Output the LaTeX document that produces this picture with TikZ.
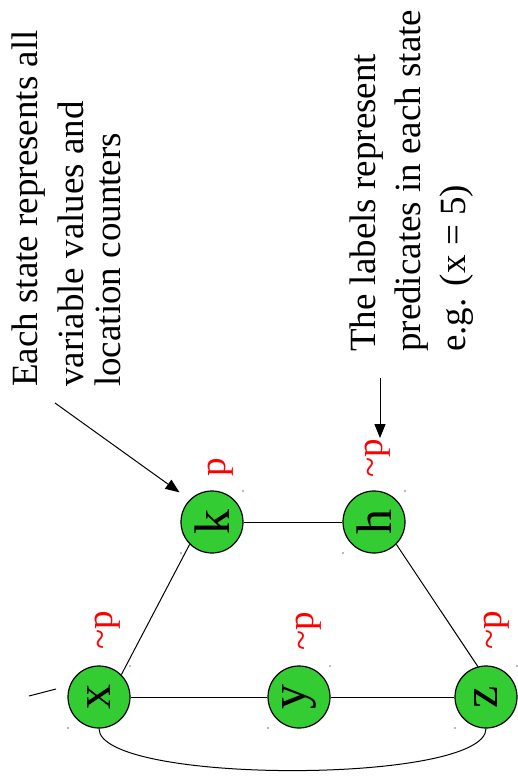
\documentclass[tikz,border=0pt]{standalone}
\usepackage{fontspec}
\setmainfont{Liberation Serif}
\usetikzlibrary{arrows.meta}
\definecolor{stategreen}{RGB}{51,204,51}
\begin{document}
\begin{tikzpicture}[x=1pt,y=-1pt,
  state/.style={circle,draw=black,line width=1.2pt,fill=stategreen,
    minimum size=62pt,inner sep=0pt,font=\fontsize{50}{50}\selectfont},
  proplabel/.style={rotate=90,anchor=base west,inner sep=0pt,text=red,
    font=\fontsize{37}{37}\selectfont},
  note/.style={rotate=90,anchor=base west,inner sep=0pt},
  edge/.style={draw=black,line width=1pt},
  pointer/.style={draw=black,line width=1pt,-{Triangle[length=14pt,width=11pt]}},
  corner dot/.style={fill=black!55}
]
\useasboundingbox (0,0) rectangle (518,783);

% states
\node[state] (x) at (99,697)  {\rotatebox{90}{x}};
\node[state] (y) at (299,697) {\rotatebox{90}{y}};
\node[state] (z) at (486,697) {\rotatebox{90}{z}};
\node[state] (k) at (212,522) {\rotatebox{90}{k}};
\node[state] (h) at (374,522) {\rotatebox{90}{h}};

% small marks at the corners of each state's frame
\foreach \n in {x,y,z,k,h}{
  \fill[corner dot] ([shift={(31,-31)}]\n.center) circle (0.8pt);
  \fill[corner dot] ([shift={(-31,31)}]\n.center) circle (0.8pt);
}

% transitions
\draw[edge] (x) -- (y);
\draw[edge] (y) -- (z);
\draw[edge] (k) -- (h);
\draw[edge] (x.45) -- (k.225);
\draw[edge] (h.315) -- (z.105);
\draw[edge] (x.south) .. controls +(0,56) and +(0,56) .. (z.south);

% entry stub
\coordinate (s1) at (29,696);
\coordinate (s2) at (56,689);
\draw[edge] (s1) -- (s2);

% propositions
\node[proplabel] (xlab) at (112,650) {\textasciitilde p};
\node[proplabel] (ylab) at (313,651) {\textasciitilde p};
\node[proplabel] (zlab) at (501,650) {\textasciitilde p};
\node[proplabel] (hlab) at (382,478) {\textasciitilde p};
\node[proplabel] (klab) at (225,477) {p};

% notes
\node[note,font=\fontsize{37}{37}\selectfont] (note1) at (37,387)
  {\begin{tabular}[t]{@{}l@{}}Each state represents all\\[9pt]
   variable values and\\ location counters\end{tabular}};
\node[note,font=\fontsize{37}{45}\selectfont] (note2) at (375,352)
  {\begin{tabular}[t]{@{}l@{}}The labels represent\\
   predicates in each state\\ e.g. (x = 5)\end{tabular}};

\coordinate (n1) at (55,403);
\draw[pointer,shorten >=12.5pt] (n1) -- (k.135);
\coordinate (n2) at (380,378);
\draw[pointer,shorten >=1pt] (n2) -- (n2 |- hlab.east);
\end{tikzpicture}
\end{document}
